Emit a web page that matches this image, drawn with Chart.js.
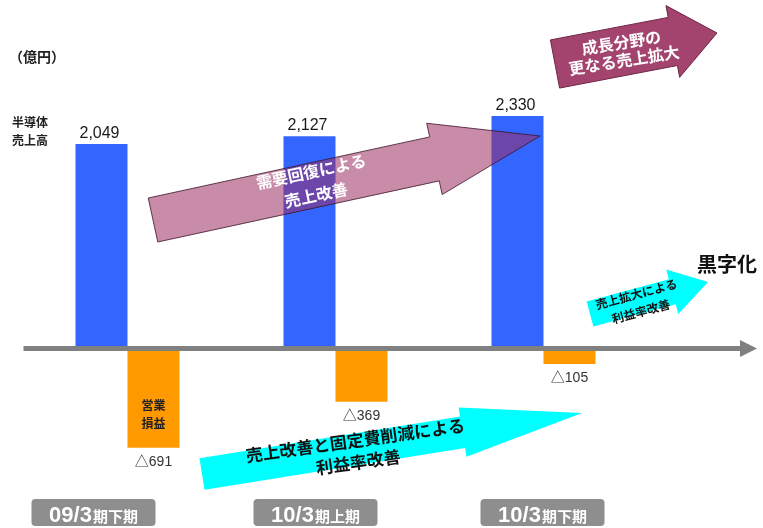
<!DOCTYPE html>
<html lang="ja">
<head>
  <meta charset="UTF-8" />
  <title>半導体売上高と営業損益</title>
  <script src="https://cdn.jsdelivr.net/npm/chart.js"></script>
  <style>
    body {
      margin: 0;
      background: #fff;
    }
  </style>
</head>
<body>
  <canvas id="salesChart" width="763" height="528"></canvas>

  <script>
    // periods (drawn as "09/3" + "期下期" on a grey tag)
    const periodYear = ["09/3", "10/3", "10/3"];
    const periodHalf = ["期下期", "期上期", "期下期"];
    // 億円
    const sales = [2049, 2127, 2330];
    const operatingLoss = [-691, -369, -105];

    const JP = '"Liberation Sans", "Noto Sans CJK JP", sans-serif';

    // arrow callouts: tail / tip centre, shaft width, head width, head length
    const callouts = [
      { tail: [153, 220], tip: [540, 136], shaft: 45, wing: 73, head: 108,
        fill: "rgba(155,44,97,0.55)", stroke: "rgba(60,20,40,0.8)",
        lines: ["需要回復による", "売上改善"], at: [314, 185], rot: -12, gap: 24,
        font: "bold 16px " + JP, color: "#fff" },
      { tail: [555, 64], tip: [717, 33], shaft: 49, wing: 73, head: 45,
        fill: "#a3446f", stroke: "#6e2448",
        lines: ["成長分野の", "更なる売上拡大"], at: [623, 53], rot: -9, gap: 18,
        font: "bold 16px " + JP, color: "#fff" },
      { tail: [590, 314], tip: [708, 282], shaft: 26, wing: 46, head: 37,
        fill: "#00ffff", stroke: null,
        lines: ["売上拡大による", "利益率改善"], at: [639, 304], rot: -15, gap: 18,
        font: "bold 12px " + JP, color: "#111" },
      { tail: [202, 474], tip: [582, 413], shaft: 32, wing: 50, head: 121,
        fill: "#00ffff", stroke: null,
        lines: ["売上改善と固定費削減による", "利益率改善"], at: [357, 453], rot: -8, gap: 22,
        font: "bold 17px " + JP, color: "#111" }
    ];

    // small horizontal nudge of each period tag from its bar pair
    const tagShift = [-34, -20, -1];

    function drawArrow(ctx, a) {
      const dx = a.tip[0] - a.tail[0], dy = a.tip[1] - a.tail[1];
      const len = Math.hypot(dx, dy);
      const ux = dx / len, uy = dy / len, nx = -uy, ny = ux;
      const bx = a.tip[0] - ux * a.head, by = a.tip[1] - uy * a.head;
      const s = a.shaft / 2, h = a.wing / 2;
      ctx.save();
      ctx.beginPath();
      ctx.moveTo(a.tail[0] + nx * s, a.tail[1] + ny * s);
      ctx.lineTo(bx + nx * s, by + ny * s);
      ctx.lineTo(bx + nx * h, by + ny * h);
      ctx.lineTo(a.tip[0], a.tip[1]);
      ctx.lineTo(bx - nx * h, by - ny * h);
      ctx.lineTo(bx - nx * s, by - ny * s);
      ctx.lineTo(a.tail[0] - nx * s, a.tail[1] - ny * s);
      ctx.closePath();
      ctx.fillStyle = a.fill;
      ctx.fill();
      if (a.stroke) {
        ctx.strokeStyle = a.stroke;
        ctx.lineWidth = 1;
        ctx.stroke();
      }
      ctx.translate(a.at[0], a.at[1]);
      ctx.rotate(a.rot * Math.PI / 180);
      ctx.font = a.font;
      ctx.fillStyle = a.color;
      ctx.textAlign = "center";
      ctx.textBaseline = "middle";
      const n = a.lines.length;
      a.lines.forEach((t, i) => ctx.fillText(t, 0, (i - (n - 1) / 2) * a.gap));
      ctx.restore();
    }

    const decor = {
      id: "decor",
      afterDatasetsDraw(chart) {
        const ctx = chart.ctx;
        const area = chart.chartArea;
        const zero = chart.scales.y.getPixelForValue(0);
        const blue = chart.getDatasetMeta(0).data;
        const orange = chart.getDatasetMeta(1).data;

        // horizontal axis with arrow head
        ctx.save();
        ctx.fillStyle = "#808080";
        ctx.fillRect(area.left, zero - 3, chart.width - 23 - area.left, 5);
        ctx.beginPath();
        ctx.moveTo(chart.width - 23, zero - 9);
        ctx.lineTo(chart.width - 6, zero - 0.5);
        ctx.lineTo(chart.width - 23, zero + 8);
        ctx.closePath();
        ctx.fill();
        ctx.restore();

        callouts.forEach(a => drawArrow(ctx, a));

        ctx.save();
        ctx.textAlign = "center";
        // sales values
        ctx.font = "16px " + JP;
        ctx.fillStyle = "#1a1a1a";
        ctx.textBaseline = "alphabetic";
        blue.forEach((bar, i) => {
          ctx.fillText(sales[i].toLocaleString("en-US"), bar.x - 2, bar.y - 6);
        });
        // operating loss values
        ctx.font = "14px " + JP;
        ctx.fillStyle = "#333";
        ctx.textBaseline = "top";
        orange.forEach((bar, i) => {
          ctx.fillText("△" + Math.abs(operatingLoss[i]), bar.x, bar.y + 7);
        });
        // label inside the first loss bar
        ctx.font = "bold 12px " + JP;
        ctx.fillStyle = "#222";
        ctx.textBaseline = "middle";
        ctx.fillText("営業", orange[0].x, zero + 58);
        ctx.fillText("損益", orange[0].x, zero + 76);

        // left-side captions
        ctx.textAlign = "left";
        ctx.font = "bold 14px " + JP;
        ctx.fillText("（億円）", 9, 58);
        ctx.font = "bold 12px " + JP;
        ctx.fillText("半導体", 12, 124);
        ctx.fillText("売上高", 12, 142);

        ctx.font = "bold 20px " + JP;
        ctx.fillStyle = "#111";
        ctx.textAlign = "center";
        ctx.fillText("黒字化", 727, 266);

        // period tags
        const x = chart.scales.x;
        periodYear.forEach((yr, i) => {
          const cx = x.getPixelForValue(i) + tagShift[i];
          ctx.fillStyle = "#8e8e8e";
          ctx.beginPath();
          ctx.roundRect(cx - 62, 499, 124, 27, 4);
          ctx.fill();
          ctx.fillStyle = "#fff";
          ctx.textBaseline = "alphabetic";
          ctx.textAlign = "left";
          ctx.font = "bold 22px " + JP;
          const w1 = ctx.measureText(yr).width;
          ctx.font = "bold 15px " + JP;
          const w2 = ctx.measureText(periodHalf[i]).width;
          const left = cx - (w1 + w2 + 1) / 2;
          ctx.font = "bold 22px " + JP;
          ctx.fillText(yr, left, 522);
          ctx.font = "bold 15px " + JP;
          ctx.fillText(periodHalf[i], left + w1 + 1, 522);
        });
        ctx.restore();
      }
    };

    new Chart(document.getElementById("salesChart"), {
      type: "bar",
      data: {
        labels: periodYear.map((y, i) => y + periodHalf[i]),
        datasets: [
          { label: "半導体売上高", data: sales, backgroundColor: "#3366ff", yAxisID: "y" },
          { label: "営業損益", data: operatingLoss, backgroundColor: "#ff9900", yAxisID: "y2" }
        ]
      },
      options: {
        responsive: false,
        animation: false,
        layout: { padding: { left: 23.5, right: 115.5, top: 39, bottom: 49 } },
        datasets: { bar: { categoryPercentage: 0.5, barPercentage: 1, borderWidth: 0 } },
        plugins: { legend: { display: false }, tooltip: { enabled: false } },
        scales: {
          x: { display: false },
          y: { type: "linear", display: false, min: -1300, max: 3100 },
          y2: { type: "linear", display: false, min: -909, max: 2168 }
        }
      },
      plugins: [decor]
    });
  </script>
</body>
</html>
